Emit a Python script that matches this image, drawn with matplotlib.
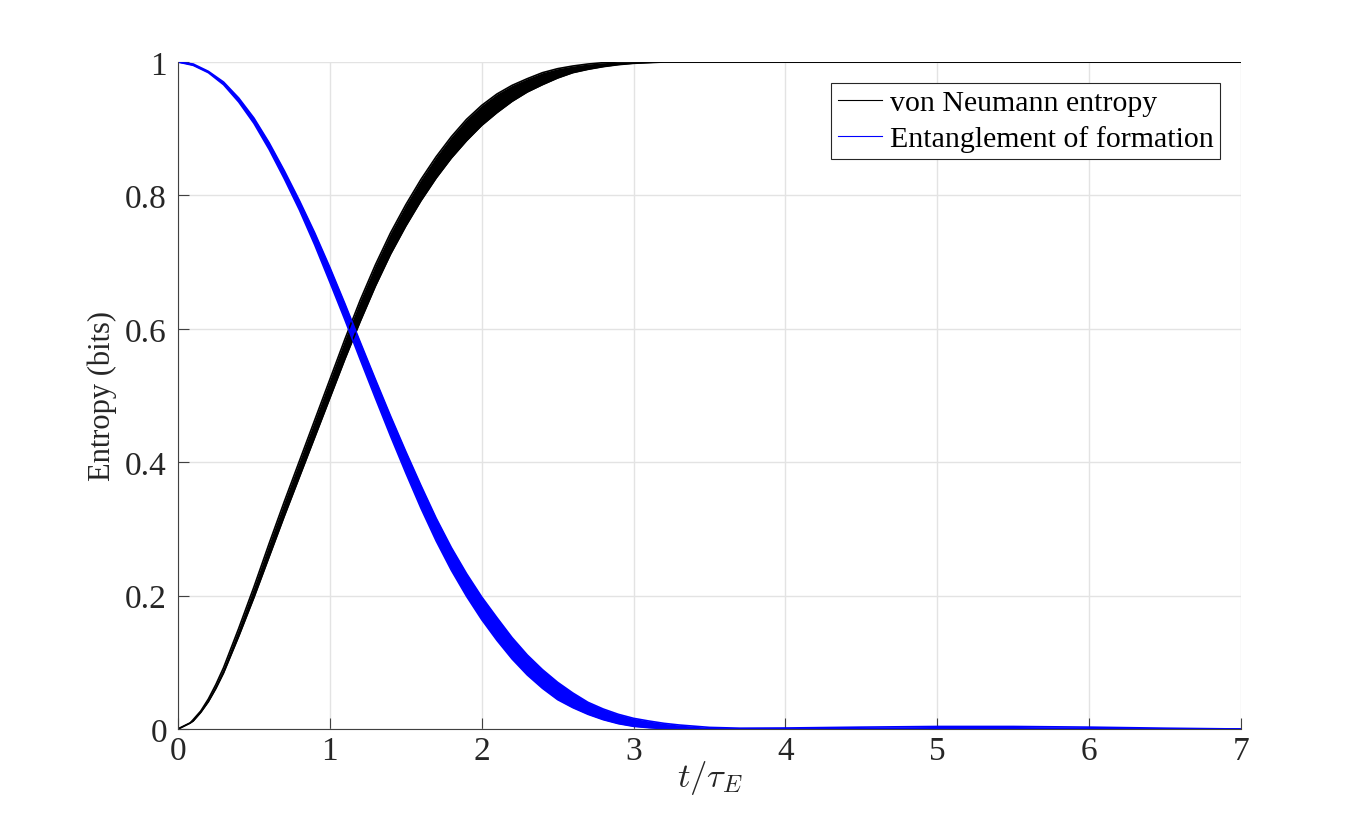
import matplotlib
matplotlib.use('Agg')
import matplotlib.pyplot as plt

# von Neumann entropy band (many runs overlaid) - lower and upper edges
t_vn = [0, 0.08, 0.1, 0.15, 0.2, 0.25, 0.3, 0.4, 0.5, 0.6, 0.7, 0.8, 0.9, 1.0, 1.1, 1.2,
        1.3, 1.4, 1.5, 1.6, 1.7, 1.8, 1.9, 2.0, 2.1, 2.2, 2.3, 2.4, 2.5, 2.6, 2.7, 2.8,
        2.9, 3.0, 3.2, 4.0, 5.0, 6.0, 7.0]
vn_lower = [0, 0.009, 0.012, 0.025, 0.041, 0.061, 0.084, 0.139, 0.197, 0.258, 0.319, 0.378,
            0.437, 0.496, 0.555, 0.611, 0.664, 0.712, 0.754, 0.792, 0.826, 0.856, 0.882, 0.905,
            0.924, 0.941, 0.955, 0.966, 0.976, 0.984, 0.989, 0.993, 0.996, 0.998, 1.0, 1, 1, 1, 1]
vn_upper = [0, 0.009, 0.014, 0.027, 0.045, 0.067, 0.092, 0.151, 0.213, 0.278, 0.341, 0.402,
            0.463, 0.524, 0.585, 0.643, 0.696, 0.744, 0.786, 0.824, 0.858, 0.888, 0.914, 0.935,
            0.952, 0.965, 0.975, 0.984, 0.990, 0.994, 0.997, 0.999, 1.0, 1.0, 1.0, 1, 1, 1, 1]

# entanglement of formation band
t_eof = [0, 0.1, 0.2, 0.3, 0.4, 0.5, 0.6, 0.7, 0.8, 0.9, 1.0, 1.1, 1.2, 1.3, 1.4, 1.5, 1.6,
         1.7, 1.8, 1.9, 2.0, 2.1, 2.2, 2.3, 2.4, 2.5, 2.6, 2.7, 2.8, 2.9, 3.0, 3.1, 3.2, 3.3,
         3.5, 3.7, 4.0, 4.5, 5.0, 5.5, 6.0, 6.5, 7.0]
eof_lower = [1.0, 0.995, 0.984, 0.966, 0.940, 0.908, 0.869, 0.825, 0.778, 0.726, 0.670, 0.613,
             0.554, 0.496, 0.439, 0.384, 0.331, 0.282, 0.238, 0.199, 0.164, 0.133, 0.105, 0.081,
             0.061, 0.044, 0.032, 0.022, 0.014, 0.008, 0.004, 0.002, 0.0005, 0, 0, 0, 0, 0, 0,
             0, 0, 0, 0]
eof_upper = [1.0, 0.997, 0.986, 0.970, 0.946, 0.916, 0.879, 0.837, 0.792, 0.744, 0.692, 0.637,
             0.580, 0.524, 0.469, 0.416, 0.365, 0.316, 0.272, 0.233, 0.198, 0.167, 0.137, 0.111,
             0.089, 0.070, 0.054, 0.040, 0.030, 0.022, 0.016, 0.012, 0.0085, 0.006, 0.0024,
             0.0012, 0.0015, 0.0028, 0.0038, 0.0038, 0.0028, 0.0012, 0]

x_ticks = [0, 1, 2, 3, 4, 5, 6, 7]
y_ticks = [0, 0.2, 0.4, 0.6, 0.8, 1]
y_tick_labels = ['0', '0.2', '0.4', '0.6', '0.8', '1']

plt.rcParams['font.family'] = ['Liberation Serif', 'DejaVu Serif']
plt.rcParams['mathtext.fontset'] = 'cm'

text_col = '#262626'
fig = plt.figure(figsize=(13.71, 8.28), dpi=100)
ax = fig.add_axes([178 / 1371, 98 / 828, 1063 / 1371, 667 / 828])

# black band
ax.fill_between(t_vn, vn_lower, vn_upper, color='black', lw=0)
ax.plot(t_vn, vn_lower, color='black', lw=1.2)
ax.plot(t_vn, vn_upper, color='black', lw=1.2)

# blue band (drawn on top)
ax.fill_between(t_eof, eof_lower, eof_upper, color='#0000ff', lw=0)
ax.plot(t_eof, eof_lower, color='#0000ff', lw=1.2)
ax.plot(t_eof, eof_upper, color='#0000ff', lw=1.2)

# legend handles with thin lines
h1, = ax.plot([], [], color='black', lw=0.8, label='von Neumann entropy')
h2, = ax.plot([], [], color='#0000ff', lw=0.8, label='Entanglement of formation')
leg = ax.legend(handles=[h1, h2], loc='upper right', fontsize=21.5, frameon=True,
                fancybox=False, framealpha=1, edgecolor='#262626', handlelength=1.5,
                handletextpad=0.25, labelspacing=0.3, borderpad=0.22, borderaxespad=0.7)
leg.get_frame().set_linewidth(0.8)

ax.set_xlim(0, 7)
ax.set_ylim(0, 1)
ax.set_xticks(x_ticks)
ax.set_yticks(y_ticks)
ax.set_yticklabels(y_tick_labels)
ax.grid(True, color='#e3e3e3', lw=1)
ax.set_axisbelow(True)
ax.spines['top'].set_visible(False)
ax.spines['right'].set_visible(False)
for s in ['left', 'bottom']:
    ax.spines[s].set_color('#404040')
    ax.spines[s].set_linewidth(0.8)
ax.tick_params(direction='in', length=8, width=0.8, color='#404040',
               labelsize=24, labelcolor=text_col)
ax.tick_params(axis='y', pad=8)
ax.tick_params(axis='x', pad=5)

ax.set_xlabel(r'$t/\tau_E$', fontsize=25, color=text_col, labelpad=-6)
ax.set_ylabel('Entropy (bits)', fontsize=22, color=text_col, labelpad=6)

fig.savefig('out.png', dpi=100)
